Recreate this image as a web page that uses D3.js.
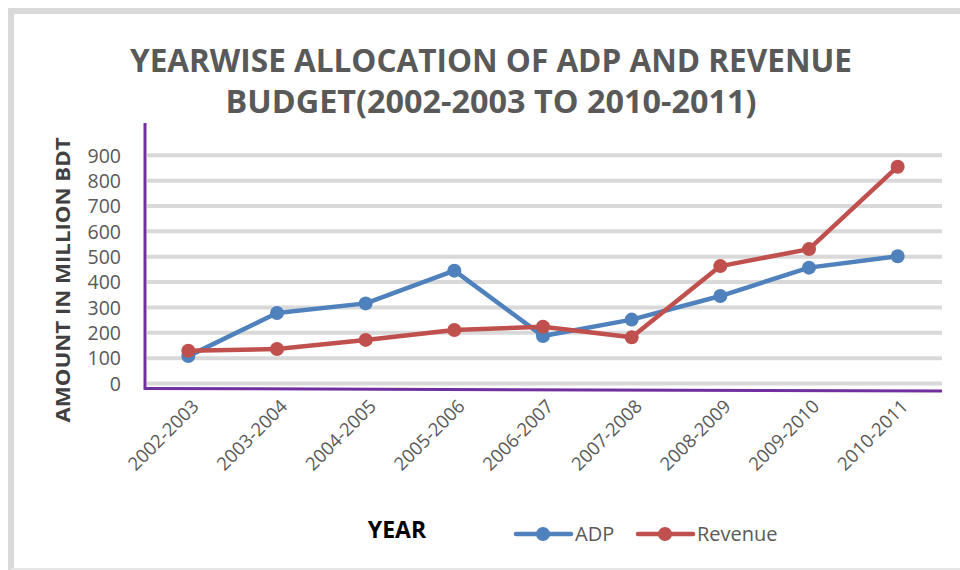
<!DOCTYPE html>
<html><head><meta charset="utf-8">
<script src="https://cdn.jsdelivr.net/npm/d3@7"></script>
<style>body{margin:0;background:#fff}svg{display:block}</style>
</head><body>
<svg id="c" width="960" height="570"></svg>
<script>
const categories = ["2002-2003","2003-2004","2004-2005","2005-2006","2006-2007","2007-2008","2008-2009","2009-2010","2010-2011"];
const adp = [108, 278, 316, 445, 187, 252, 345, 457, 502];
const revenue = [129, 136, 172, 211, 224, 182, 463, 530, 855];
const yTicks = [0,100,200,300,400,500,600,700,800,900];
const seriesNames = ["ADP","Revenue"];
const colors = ["#4f81bd","#c0504d"];

const svg = d3.select("#c");
const font = "'Liberation Sans Narrow','Open Sans',Calibri,sans-serif";
const font2 = "'Open Sans','Noto Sans',sans-serif";

// outer border
svg.append("path").attr("d","M11,575 L11,11 L965,11").attr("fill","none").attr("stroke","#d9d9d9").attr("stroke-width",6);
svg.append("line").attr("x1",11).attr("x2",965).attr("y1",569).attr("y2",569).attr("stroke","#e6e6e6").attr("stroke-width",2);

const x = d3.scaleBand().domain(categories).range([144,942]);
const y = d3.scaleLinear().domain([0,900]).range([383.5,155.3]);

// gridlines
svg.append("g").selectAll("line").data(yTicks).join("line")
  .attr("x1",147).attr("x2",942).attr("y1",d=>y(d)).attr("y2",d=>y(d))
  .attr("stroke","#d9d9d9").attr("stroke-width",4);

// y axis labels
const yAxis = d3.axisLeft(y).tickValues(yTicks).tickSize(0).tickPadding(0);
const gy = svg.append("g").attr("transform","translate(121,0)").call(yAxis);
gy.select(".domain").remove();
gy.selectAll("text").attr("font-family",font2).attr("font-size",19.5).attr("fill","#595959").attr("dy","0.35em");

// axis lines (purple)
svg.append("line").attr("x1",145).attr("x2",145).attr("y1",123).attr("y2",390).attr("stroke","#7030a0").attr("stroke-width",3);
svg.append("line").attr("x1",144).attr("x2",942).attr("y1",388.5).attr("y2",391).attr("stroke","#7030a0").attr("stroke-width",3);

// x axis labels
const xAxis = d3.axisBottom(x).tickSize(0).tickPadding(0);
const gx = svg.append("g").attr("transform","translate(0,400)").call(xAxis);
gx.select(".domain").remove();
gx.selectAll("text").attr("font-family",font2).attr("font-size",18.5).attr("fill","#595959")
  .attr("text-anchor","end").attr("dy","0.35em")
  .attr("transform","translate(7,3) rotate(-45)");

// lines
const line = d3.line().x((d,i)=>x(categories[i])+x.bandwidth()/2).y(d=>y(d));
[adp,revenue].forEach((s,k)=>{
  const g = svg.append("g");
  g.append("path").datum(s).attr("d",line).attr("fill","none").attr("stroke",colors[k]).attr("stroke-width",4.5).attr("stroke-linejoin","round");
  g.selectAll("circle").data(s).join("circle")
    .attr("cx",(d,i)=>x(categories[i])+x.bandwidth()/2).attr("cy",d=>y(d)).attr("r",7).attr("fill",colors[k]);
});

// title
const t = svg.append("text").attr("text-anchor","middle").attr("font-family",font).attr("font-weight","bold").attr("font-size",32).attr("fill","#595959");
t.append("tspan").attr("x",491).attr("y",72).attr("textLength",722).attr("lengthAdjust","spacingAndGlyphs").text("YEARWISE ALLOCATION OF ADP AND REVENUE");
t.append("tspan").attr("x",491).attr("y",113).attr("textLength",531).attr("lengthAdjust","spacingAndGlyphs").text("BUDGET(2002-2003 TO 2010-2011)");

// y label
svg.append("text").attr("transform","translate(70,280) rotate(-90)").attr("text-anchor","middle")
  .attr("font-family",font2).attr("font-weight","bold").attr("font-size",20).attr("fill","#404040")
  .attr("textLength",285).attr("lengthAdjust","spacingAndGlyphs").text("AMOUNT IN MILLION BDT");

// x label
svg.append("text").attr("x",397).attr("y",538).attr("text-anchor","middle")
  .attr("font-family",font2).attr("font-weight","bold").attr("font-size",23).attr("fill","#000").text("YEAR");

// legend
const leg = [{x:516},{x:638}];
seriesNames.forEach((n,k)=>{
  const lx = leg[k].x;
  svg.append("line").attr("x1",lx).attr("x2",lx+55).attr("y1",534).attr("y2",534).attr("stroke",colors[k]).attr("stroke-width",4.5).attr("stroke-linecap","round");
  svg.append("circle").attr("cx",lx+27).attr("cy",534).attr("r",7).attr("fill",colors[k]);
  svg.append("text").attr("x",lx+59).attr("y",541).attr("font-family",font2).attr("font-size",20).attr("fill","#595959").text(n);
});
</script>
</body></html>
